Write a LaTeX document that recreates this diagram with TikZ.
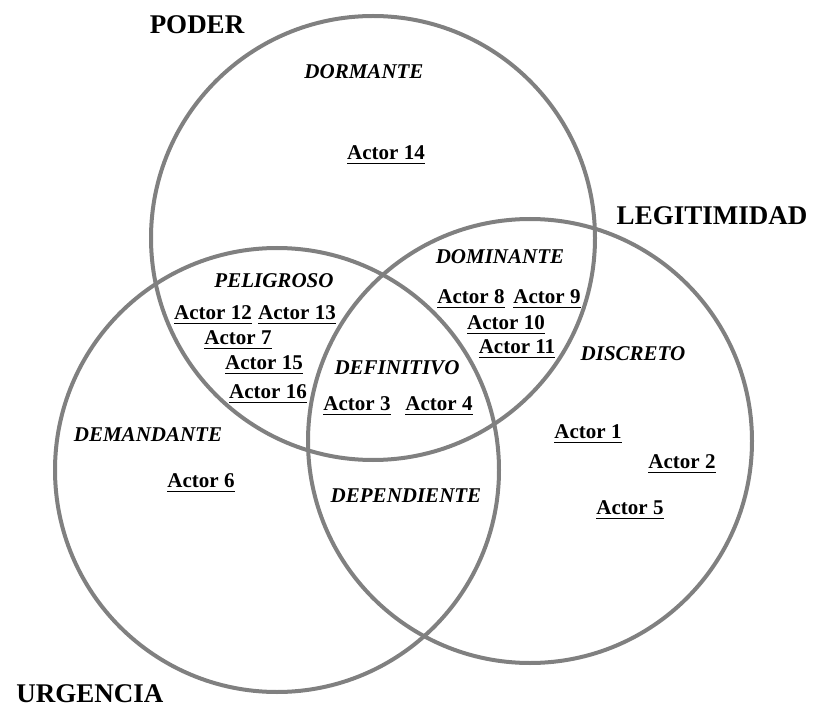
\documentclass[tikz,border=0pt]{standalone}
\usepackage{fontspec}
\setmainfont{Liberation Serif}
\usetikzlibrary{positioning}
\definecolor{ringgray}{RGB}{128,128,128}
\newcommand{\act}[1]{\vtop{\hbox{#1}\kern3pt\hrule height 1.6pt}}
\tikzset{
  ring/.style={draw=ringgray, line width=4pt, circle, inner sep=0pt, minimum size=444pt},
  setname/.style={font=\fontsize{27}{30}\selectfont\bfseries},
  region/.style={font=\fontsize{21}{24}\selectfont\bfseries\itshape},
  actor/.style={font=\fontsize{21}{24}\selectfont\bfseries, inner sep=0pt}
}

\begin{document}
\begin{tikzpicture}[x=1pt,y=-1pt]
\useasboundingbox (0,0) rectangle (814,711);
% the three sets
\node[ring] (poder) at (373,238) {};
\node[ring] (urgencia) at (277,470) {};
\node[ring] (legitimidad) at (530,441) {};
\node[setname] (tpoder) at (197,25) {PODER};
\node[setname] (turgencia) at (90,694) {URGENCIA};
\node[setname] (tlegitimidad) at (712,216) {LEGITIMIDAD};
% regions
\node[region] (dormante) at (364,72) {DORMANTE};
\node[region] (dominante) at (500,257) {DOMINANTE};
\node[region] (peligroso) at (274,281) {PELIGROSO};
\node[region] (definitivo) at (397,368) {DEFINITIVO};
\node[region] (discreto) at (633,354) {DISCRETO};
\node[region] (demandante) at (148,435) {DEMANDANTE};
\node[region] (dependiente) at (406,496) {DEPENDIENTE};
% actors
\node[actor] (a14) at (386,155) {\act{Actor 14}};
\node[actor] (a8) at (471,299) {\act{Actor 8}};
\node[actor] (a9) at (547,299) {\act{Actor 9}};
\node[actor] (a10) at (506,325) {\act{Actor 10}};
\node[actor] (a11) at (517,349) {\act{Actor 11}};
\node[actor] (a12) at (213,315) {\act{Actor 12}};
\node[actor] (a13) at (297,315) {\act{Actor 13}};
\node[actor] (a7) at (238,340) {\act{Actor 7}};
\node[actor] (a15) at (264,365) {\act{Actor 15}};
\node[actor] (a16) at (268,394) {\act{Actor 16}};
\node[actor] (a3) at (357,406) {\act{Actor 3}};
\node[actor] (a4) at (439,406) {\act{Actor 4}};
\node[actor] (a1) at (588,434) {\act{Actor 1}};
\node[actor] (a2) at (682,464) {\act{Actor 2}};
\node[actor] (a5) at (630,510) {\act{Actor 5}};
\node[actor] (a6) at (201,483) {\act{Actor 6}};
\end{tikzpicture}
\end{document}
